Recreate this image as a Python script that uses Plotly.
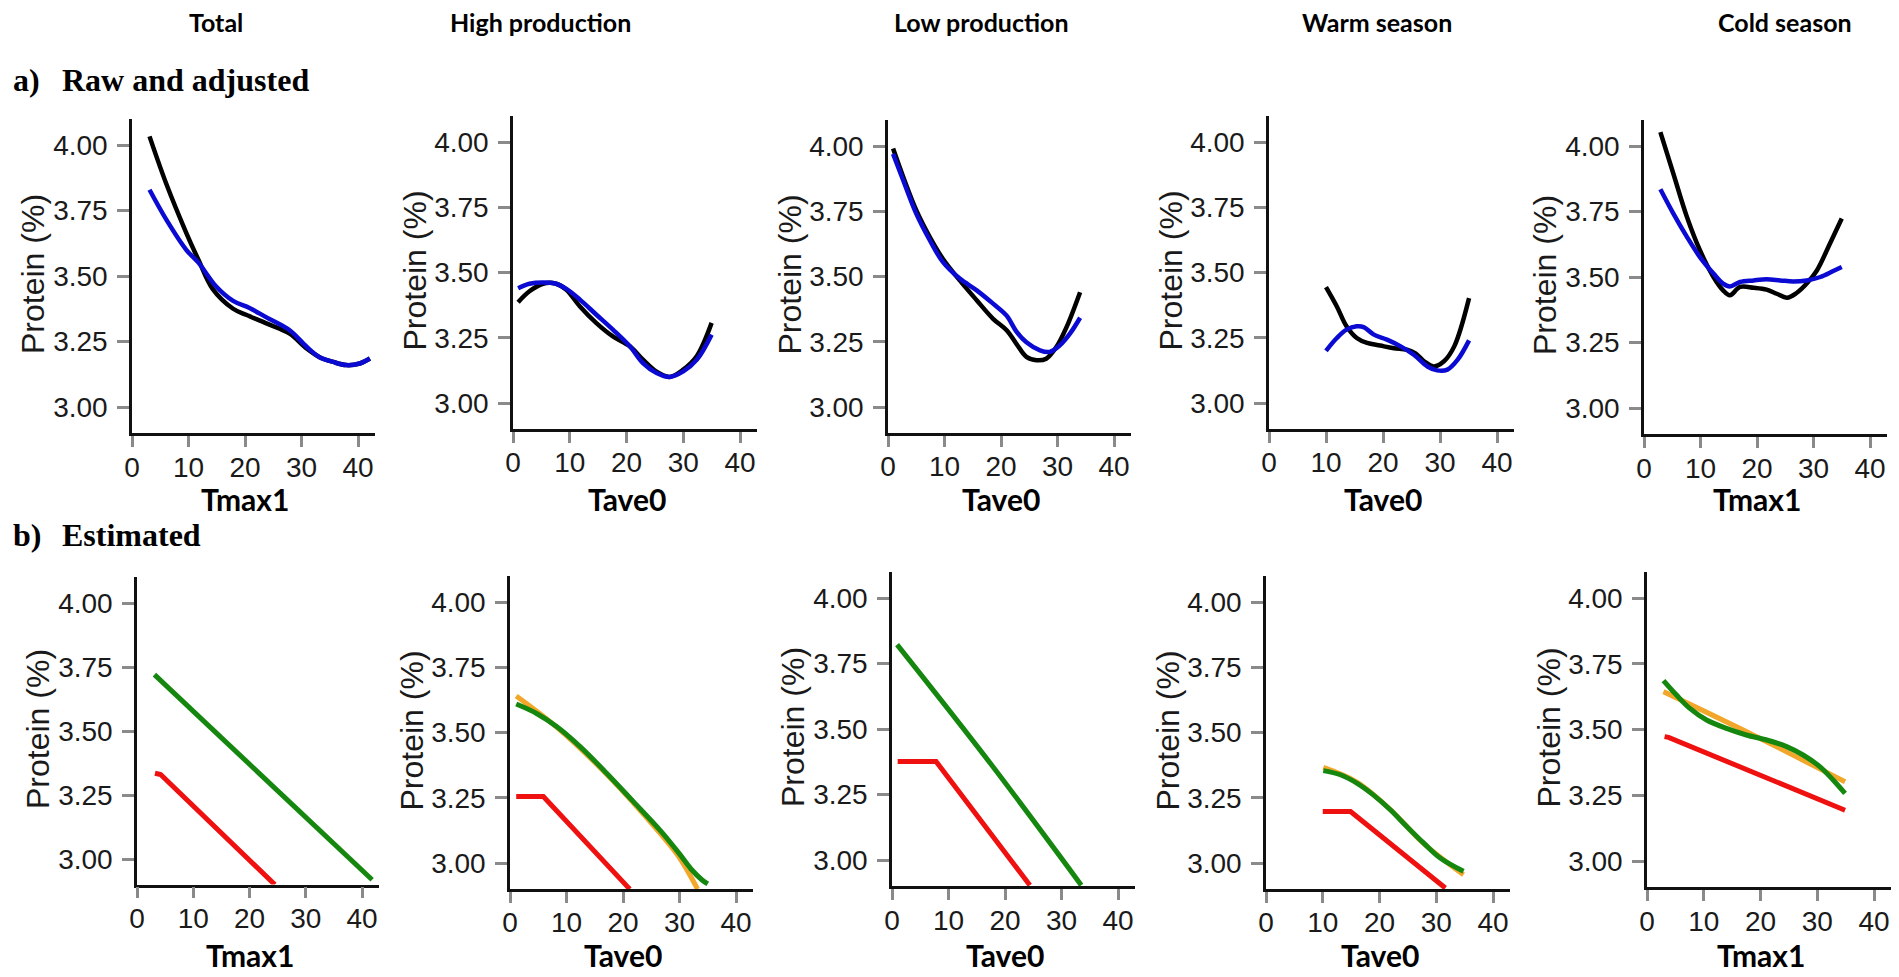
import plotly.graph_objects as go

W, H = 1899, 977

# ---------------- data ----------------
headers = ["Total", "High production", "Low production", "Warm season", "Cold season"]
header_x_px = [216, 540, 981, 1377, 1785]
x_titles = ["Tmax1", "Tave0", "Tave0", "Tave0", "Tmax1"]
y_ticks = [3.00, 3.25, 3.50, 3.75, 4.00]
x_ticks = [0, 10, 20, 30, 40]

# a) Raw (black) and adjusted (blue)
total_raw_x = [3.1, 6.1, 9.6, 11.8, 14.3, 17.9, 20.2, 23.8, 27.9, 30.9, 33.2, 35.6, 37.9, 40.3, 42.1]
total_raw_y = [4.033, 3.85, 3.665, 3.56, 3.45, 3.375, 3.352, 3.319, 3.28, 3.223, 3.19, 3.172, 3.16, 3.166, 3.185]
total_adj_x = [3.1, 6.1, 9.6, 11.8, 14.9, 17.9, 20.8, 23.8, 27.9, 30.9, 33.2, 35.6, 37.9, 40.3, 42.1]
total_adj_y = [3.829, 3.714, 3.60, 3.55, 3.46, 3.405, 3.378, 3.342, 3.293, 3.23, 3.19, 3.172, 3.16, 3.166, 3.185]

high_raw_x = [0.9, 2.9, 5.3, 7.6, 9.4, 11.8, 14.7, 17.6, 20.6, 22.9, 25.3, 27.6, 30.0, 32.4, 35.0]
high_raw_y = [3.386, 3.428, 3.457, 3.457, 3.434, 3.37, 3.306, 3.255, 3.217, 3.166, 3.12, 3.10, 3.128, 3.18, 3.307]
high_adj_x = [0.9, 2.9, 5.3, 7.6, 9.4, 11.8, 14.7, 17.6, 20.6, 22.9, 25.3, 27.6, 30.0, 32.4, 35.0]
high_adj_y = [3.44, 3.457, 3.462, 3.457, 3.437, 3.396, 3.338, 3.281, 3.217, 3.153, 3.115, 3.10, 3.121, 3.166, 3.262]

low_raw_x = [0.9, 2.7, 5.0, 7.4, 9.7, 12.7, 15.7, 18.6, 21.0, 22.7, 24.5, 26.3, 28.0, 29.8, 31.6, 34.0]
low_raw_y = [3.99, 3.881, 3.754, 3.651, 3.568, 3.485, 3.409, 3.338, 3.294, 3.243, 3.192, 3.179, 3.185, 3.23, 3.306, 3.44]
low_adj_x = [0.9, 2.7, 5.0, 7.4, 9.7, 12.7, 15.7, 18.6, 21.0, 22.7, 24.5, 26.9, 28.6, 30.4, 32.2, 34.0]
low_adj_y = [3.97, 3.868, 3.741, 3.639, 3.556, 3.492, 3.447, 3.396, 3.35, 3.29, 3.248, 3.217, 3.211, 3.236, 3.281, 3.342]

warm_raw_x = [10.0, 11.9, 13.6, 15.4, 17.2, 19.5, 21.9, 24.2, 25.7, 27.2, 28.9, 30.7, 32.5, 35.1]
warm_raw_y = [3.444, 3.37, 3.294, 3.249, 3.23, 3.22, 3.21, 3.204, 3.19, 3.16, 3.14, 3.16, 3.217, 3.402]
warm_adj_x = [10.0, 11.9, 13.6, 15.4, 16.6, 18.4, 20.7, 23.1, 25.4, 27.8, 29.5, 31.3, 33.1, 35.1]
warm_adj_y = [3.20, 3.249, 3.281, 3.294, 3.291, 3.262, 3.243, 3.217, 3.185, 3.14, 3.125, 3.128, 3.166, 3.24]

cold_raw_x = [2.9, 5.2, 7.6, 9.9, 12.3, 14.0, 15.2, 17.0, 19.4, 21.7, 23.5, 25.3, 27.0, 28.8, 30.6, 32.9, 35.0]
cold_raw_y = [4.053, 3.894, 3.729, 3.602, 3.50, 3.449, 3.43, 3.462, 3.459, 3.452, 3.436, 3.421, 3.439, 3.475, 3.525, 3.627, 3.723]
cold_adj_x = [2.9, 5.2, 7.6, 9.9, 12.3, 14.0, 15.2, 17.0, 19.4, 21.7, 24.1, 26.4, 28.8, 31.2, 33.5, 35.0]
cold_adj_y = [3.835, 3.742, 3.653, 3.576, 3.513, 3.475, 3.464, 3.481, 3.487, 3.491, 3.487, 3.483, 3.487, 3.50, 3.523, 3.538]

# b) Estimated: orange, green, red
total_green_x = [3.1, 22.5, 41.8]
total_green_y = [3.72, 3.316, 2.919]
total_red_x = [3.2, 4.2, 24.5]
total_red_y = [3.335, 3.33, 2.90]

high_orange_x = [1.1, 8.3, 17.1, 26.5, 30.0, 33.2]
high_orange_y = [3.64, 3.52, 3.34, 3.115, 3.02, 2.90]
high_green_x = [1.1, 4.7, 8.3, 12.4, 17.1, 21.8, 26.5, 30.0, 32.0, 34.0, 35.0]
high_green_y = [3.609, 3.573, 3.522, 3.446, 3.344, 3.236, 3.127, 3.035, 2.978, 2.935, 2.92]
high_red_x = [1.1, 5.9, 21.2]
high_red_y = [3.255, 3.255, 2.90]

low_green_x = [0.9, 17.4, 33.5]
low_green_y = [3.822, 3.369, 2.904]
low_red_x = [1.0, 7.8, 24.4]
low_red_y = [3.376, 3.376, 2.904]

warm_orange_x = [10.1, 16.0, 21.9, 27.8, 34.8]
warm_orange_y = [3.366, 3.31, 3.205, 3.074, 2.955]
warm_green_x = [10.1, 13.1, 16.0, 18.9, 21.9, 24.8, 27.8, 30.7, 34.8]
warm_green_y = [3.354, 3.338, 3.306, 3.261, 3.204, 3.14, 3.076, 3.019, 2.968]
warm_red_x = [10.0, 14.9, 31.6]
warm_red_y = [3.197, 3.197, 2.904]

cold_orange_x = [2.9, 18.7, 34.9]
cold_orange_y = [3.644, 3.479, 3.301]
cold_green_x = [2.9, 5.2, 7.5, 10.5, 14.0, 17.5, 21.1, 24.6, 27.5, 30.5, 32.8, 34.9]
cold_green_y = [3.686, 3.631, 3.581, 3.536, 3.504, 3.479, 3.46, 3.435, 3.403, 3.358, 3.308, 3.257]
cold_red_x = [3.1, 3.8, 34.9]
cold_red_y = [3.473, 3.47, 3.193]

# ---------------- styling / layout ----------------
BLACK = "#000000"
BLUE = "#0a0ad2"
GREEN = "#15870f"
ORANGE = "#f3a72a"
RED = "#ef1010"

# per-panel pixel geometry: (axis x px, px per 10 units, y px of 4.00, y px of 3.00)
panels_geo = [
    (132, 56.5, 145, 407), (513, 56.75, 142, 403), (888, 56.5, 146, 407),
    (1269, 57.0, 142, 403), (1644, 56.5, 146, 408),
    (137, 56.25, 603, 859), (510, 56.5, 602, 863), (892, 56.5, 598, 860),
    (1266, 56.75, 602, 863), (1647, 56.75, 598, 861),
]

XMAX = 43.0
YMIN, YMAX = 2.9, 4.1

top_series = [
    [(total_raw_x, total_raw_y, BLACK), (total_adj_x, total_adj_y, BLUE)],
    [(high_raw_x, high_raw_y, BLACK), (high_adj_x, high_adj_y, BLUE)],
    [(low_raw_x, low_raw_y, BLACK), (low_adj_x, low_adj_y, BLUE)],
    [(warm_raw_x, warm_raw_y, BLACK), (warm_adj_x, warm_adj_y, BLUE)],
    [(cold_raw_x, cold_raw_y, BLACK), (cold_adj_x, cold_adj_y, BLUE)],
]
bottom_series = [
    [(total_green_x, total_green_y, GREEN, "linear"), (total_red_x, total_red_y, RED, "linear")],
    [(high_orange_x, high_orange_y, ORANGE, "spline"), (high_green_x, high_green_y, GREEN, "spline"),
     (high_red_x, high_red_y, RED, "linear")],
    [(low_green_x, low_green_y, GREEN, "spline"), (low_red_x, low_red_y, RED, "linear")],
    [(warm_orange_x, warm_orange_y, ORANGE, "spline"), (warm_green_x, warm_green_y, GREEN, "spline"),
     (warm_red_x, warm_red_y, RED, "linear")],
    [(cold_orange_x, cold_orange_y, ORANGE, "spline"), (cold_green_x, cold_green_y, GREEN, "spline"),
     (cold_red_x, cold_red_y, RED, "linear")],
]

fig = go.Figure()
layout = dict(
    width=W, height=H, margin=dict(l=0, r=0, t=0, b=0, autoexpand=False),
    paper_bgcolor="white", plot_bgcolor="white", showlegend=False,
    font=dict(family="Liberation Sans, Arial, sans-serif", color="#1a1a1a"),
)
annotations = []

TICKFONT = dict(family="Liberation Sans, Arial, sans-serif", size=28, color="#1a1a1a")
SANSB = "Lato, Open Sans, sans-serif"

for i, (ax_px, ppu10, y4, y3) in enumerate(panels_geo):
    k = i + 1
    xname = "x" if k == 1 else f"x{k}"
    yname = "y" if k == 1 else f"y{k}"
    ppu = ppu10 / 10.0
    x_end_px = ax_px + XMAX * ppu
    span = y3 - y4
    y_bot_px = y3 + (3.0 - YMIN) * span
    y_top_px = y4 - (YMAX - 4.0) * span
    layout[f"xaxis{'' if k == 1 else k}"] = dict(
        domain=[ax_px / W, x_end_px / W], anchor=yname, range=[0, XMAX],
        showgrid=False, zeroline=False, showline=True, linecolor="#111", linewidth=2.5,
        ticks="outside", ticklen=11, tickwidth=2.5, tickcolor="#8a8a8a",
        tickvals=x_ticks, ticktext=[str(v) for v in x_ticks], tickfont=TICKFONT,
        ticklabelstandoff=-4, fixedrange=True, automargin=False,
    )
    layout[f"yaxis{'' if k == 1 else k}"] = dict(
        domain=[1 - y_bot_px / H, 1 - y_top_px / H], anchor=xname, range=[YMIN, YMAX],
        showgrid=False, zeroline=False, showline=True, linecolor="#111", linewidth=2.5,
        ticks="outside", ticklen=12, tickwidth=2.5, tickcolor="#8a8a8a",
        tickvals=y_ticks, ticktext=[f"{v:.2f}" for v in y_ticks], tickfont=TICKFONT,
        ticklabelstandoff=4, fixedrange=True, automargin=False,
    )
    col = i % 5
    if i < 5:
        for xs, ys, c in top_series[col]:
            fig.add_trace(go.Scatter(x=xs, y=ys, mode="lines", xaxis=xname, yaxis=yname,
                                     line=dict(color=c, width=4.5, shape="spline", smoothing=1.0),
                                     hoverinfo="skip"))
        xt_y = 499
    else:
        for xs, ys, c, shp in bottom_series[col]:
            fig.add_trace(go.Scatter(x=xs, y=ys, mode="lines", xaxis=xname, yaxis=yname,
                                     line=dict(color=c, width=5, shape=shp),
                                     hoverinfo="skip"))
        xt_y = 955
    # y-axis title
    annotations.append(dict(
        text="Protein (%)", textangle=-90, xref="paper", yref="paper",
        x=(ax_px - 99) / W, y=1 - ((y4 + y3) / 2 - 2) / H, xanchor="center", yanchor="middle",
        showarrow=False, font=dict(family="Liberation Sans, Arial, sans-serif", size=32, color="#1a1a1a"),
    ))
    # x-axis title
    annotations.append(dict(
        text=f"<b>{x_titles[col]}</b>", xref="paper", yref="paper",
        x=(ax_px + 20 * ppu) / W, y=1 - xt_y / H, xanchor="center", yanchor="middle",
        showarrow=False, font=dict(family=SANSB, size=30, color="#000"),
    ))

for h, hx in zip(headers, header_x_px):
    annotations.append(dict(
        text=f"<b>{h}</b>", xref="paper", yref="paper", x=hx / W, y=1 - 22 / H,
        xanchor="center", yanchor="middle", showarrow=False,
        font=dict(family=SANSB, size=25, color="#000"),
    ))

SERIF = dict(family="Liberation Serif, Times New Roman, serif", size=32, color="#000")
for lbl, txt, yc in [("a)", "Raw and adjusted", 80), ("b)", "Estimated", 535)]:
    annotations.append(dict(text=f"<b>{lbl}</b>", xref="paper", yref="paper", x=11 / W, y=1 - yc / H,
                            xanchor="left", yanchor="middle", showarrow=False, font=SERIF))
    annotations.append(dict(text=f"<b>{txt}</b>", xref="paper", yref="paper", x=60 / W, y=1 - yc / H,
                            xanchor="left", yanchor="middle", showarrow=False, font=SERIF))

layout["annotations"] = annotations
fig.update_layout(**layout)
fig.write_html("out.html", config={"displayModeBar": False},
               post_script="document.body.style.margin='0';document.body.style.overflow='hidden';")
